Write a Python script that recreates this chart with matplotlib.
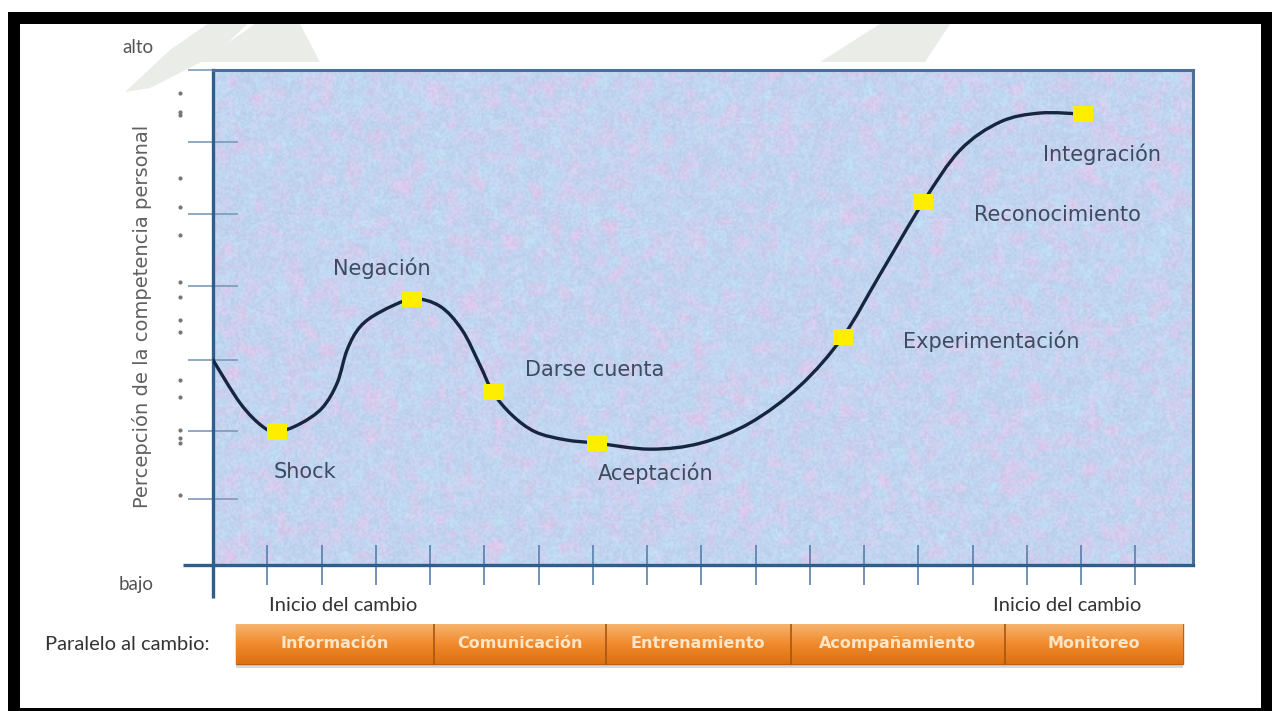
import numpy as np
import matplotlib
matplotlib.use("Agg")
import matplotlib.pyplot as plt
from matplotlib.patches import Rectangle, Polygon, PathPatch
from matplotlib.path import Path
from matplotlib.colors import LinearSegmentedColormap

W, H = 1276, 711

# curve: x in tick steps, y in % of the axis height
curve_x = [0.00, 0.50, 0.90, 1.18, 1.60, 2.01, 2.29, 2.47, 2.71, 3.08, 3.67, 4.18,
           4.59, 4.92, 5.16, 5.51, 5.94, 6.49, 7.08, 8.06, 8.98, 9.90, 10.82, 11.61,
           12.29, 13.09, 13.77, 14.51, 15.24, 16.04]
curve_y = [41.4, 32.7, 28.1, 26.9, 28.5, 31.7, 36.8, 43.4, 48.1, 51.1, 53.7, 52.3,
           47.5, 40.4, 34.9, 30.3, 26.9, 25.3, 24.6, 23.4, 24.6, 28.7, 36.2, 46.1,
           58.6, 73.3, 83.8, 89.5, 91.3, 91.1]

stage_names = ["Shock", "Negación", "Darse cuenta", "Aceptación",
               "Experimentación", "Reconocimiento", "Integración"]
stage_x = [1.18, 3.67, 5.16, 7.08, 11.61, 13.09, 16.04]
stage_y = [26.9, 53.7, 34.9, 24.6, 46.1, 73.3, 91.1]
# where each stage name sits (left edge, middle)
label_x = [1.11, 2.21, 5.75, 7.10, 12.72, 14.03, 15.30]
label_y = [18.8, 60.0, 39.4, 18.6, 45.3, 70.7, 83.0]

y_ticks = [13.3, 27.1, 41.4, 56.4, 70.9, 85.5, 100]
x_ticks = list(range(1, 18))

phases = ["Información", "Comunicación", "Entrenamiento", "Acompañamiento", "Monitoreo"]
phase_start = [0.42, 4.07, 7.24, 10.65, 14.60]
phase_end = [4.07, 7.24, 10.65, 14.60, 17.88]

# stray dots left of the y axis
dot_y = [95.4, 91.5, 90.9, 78.2, 72.3, 66.7, 57.2, 54.1, 49.5, 47.1, 37.4, 33.9,
         27.3, 25.7, 24.6, 14.1]

XMAX = 980 / 54.25
TXT = "#3f4a5e"


def fig_rect(x0, y0, x1, y1):
    return [x0 / W, 1 - y1 / H, (x1 - x0) / W, (y1 - y0) / H]


def blur(a, k):
    ker = np.ones(k) / k
    a = np.apply_along_axis(lambda r: np.convolve(r, ker, mode="same"), 1, a)
    a = np.apply_along_axis(lambda c: np.convolve(c, ker, mode="same"), 0, a)
    return a


def norm(a):
    return (a - a.min()) / (a.max() - a.min())


def texture():
    rng = np.random.default_rng(7)
    h, w = 250, 500
    p = norm(blur(rng.random((h + 20, w + 20)), 6)[10:-10, 10:-10])
    c = norm(blur(rng.random((h + 20, w + 20)), 6)[10:-10, 10:-10])
    base = np.array([192, 212, 240]) / 255
    cyan = np.array([190, 230, 247]) / 255
    pink = np.array([222, 200, 236]) / 255
    tp = np.clip((p - 0.48) * 2.8, 0, 1)[..., None]
    tc = np.clip((c - 0.5) * 2.5, 0, 1)[..., None]
    img = base * (1 - tp) + pink * tp
    img = img * (1 - 0.6 * tc) + cyan * 0.6 * tc
    img += (rng.random((h, w, 1)) - 0.5) * 0.06
    return np.clip(img, 0, 1)


def smooth_path(xs, ys):
    # Catmull-Rom through the read points, drawn as cubic Bezier pieces
    pts = np.column_stack([xs, ys])
    ext = np.vstack([pts[0], pts, pts[-1]])
    verts = [pts[0]]
    codes = [Path.MOVETO]
    for i in range(1, len(ext) - 2):
        p0, p1, p2, p3 = ext[i - 1], ext[i], ext[i + 1], ext[i + 2]
        verts += [p1 + (p2 - p0) / 6, p2 - (p3 - p1) / 6, p2]
        codes += [Path.CURVE4] * 3
    return Path(verts, codes)


fig = plt.figure(figsize=(W / 100, H / 100), dpi=100)
fig.patch.set_facecolor("white")

# frame and faint watermark
deco = fig.add_axes([0, 0, 1, 1])
deco.set_xlim(0, W)
deco.set_ylim(H, 0)
deco.axis("off")
wm = "#eaece8"
deco.add_patch(Polygon([(125, 92), (170, 50), (225, 12), (260, 12), (215, 55), (150, 88)],
                       color=wm, lw=0))
deco.add_patch(Polygon([(200, 62), (255, 24), (300, 24), (320, 62)], color=wm, lw=0))
deco.add_patch(Polygon([(820, 62), (880, 24), (950, 24), (925, 62)], color=wm, lw=0))
for x0, y0, x1, y1 in [(8, 12, 1272, 24), (8, 12, 20, 711), (1261, 12, 1272, 711),
                       (8, 708, 1272, 711)]:
    deco.add_patch(Rectangle((x0, y0), x1 - x0, y1 - y0, color="black", lw=0))

# main chart
ax = fig.add_axes(fig_rect(213, 70, 1193, 565))
ax.imshow(texture(), extent=[0, XMAX, 0, 100], aspect="auto", zorder=0,
          interpolation="bilinear")
ax.set_xlim(0, XMAX)
ax.set_ylim(0, 100)
ax.set_xticks(x_ticks)
ax.set_yticks(y_ticks)
ax.set_xticklabels([])
ax.set_yticklabels([])
ax.tick_params(axis="x", direction="inout", length=29, width=1.2, color="#5b7eaa")
ax.tick_params(axis="y", direction="inout", length=36, width=1.2, color="#7d99bb")
for side in ["top", "right"]:
    ax.spines[side].set_color("#4b6f99")
    ax.spines[side].set_linewidth(2.2)
for side in ["left", "bottom"]:
    ax.spines[side].set_color("#2f5d8c")
    ax.spines[side].set_linewidth(2.4)
ax.plot([0, 0], [0, -6.7], color="#2f5d8c", lw=2.4, clip_on=False, solid_capstyle="butt")
ax.plot([-0.56, 0], [0, 0], color="#2f5d8c", lw=2.4, clip_on=False, solid_capstyle="butt")
ax.plot([-0.61] * len(dot_y), dot_y, ls="none", marker="o", ms=2, color="#777777",
        clip_on=False)

ax.add_patch(PathPatch(smooth_path(curve_x, curve_y), fill=False, edgecolor="#17263f",
                       lw=2.4, capstyle="round", joinstyle="round", zorder=3))
box = [(-1.25, -1), (1.25, -1), (1.25, 1), (-1.25, 1)]
ax.plot(stage_x, stage_y, ls="none", marker=box, ms=15, color="#ffee00",
        markeredgewidth=0, zorder=4)
for name, lx, ly in zip(stage_names, label_x, label_y):
    ax.text(lx, ly, name, fontsize=15, color=TXT, ha="left", va="center")

ax.text(-1.1, 104.5, "alto", fontsize=13.5, color="#555555", ha="right", va="center",
        family="Lato", clip_on=False)
ax.text(-1.1, -4.0, "bajo", fontsize=13.5, color="#555555", ha="right", va="center",
        family="Lato", clip_on=False)
ax.text(2.4, -8.1, "Inicio del cambio", fontsize=14.5, color="#333333", ha="center",
        va="center", family="Lato", clip_on=False)
ax.text(15.74, -8.1, "Inicio del cambio", fontsize=14.5, color="#333333", ha="center",
        va="center", family="Lato", clip_on=False)
fig.text(142 / W, 1 - 316 / H, "Percepción de la competencia personal", rotation=90,
         fontsize=14, color="#606060", ha="center", va="center",
         family=["Liberation Sans Narrow", "DejaVu Sans"])
fig.text(45 / W, 1 - 645 / H, "Paralelo al cambio:", fontsize=14.5, color="#333333",
         ha="left", va="center", family="Lato")

# phase bar under the chart, with a soft shadow
pax = fig.add_axes(fig_rect(213, 624, 1193, 668))
orange = LinearSegmentedColormap.from_list("o", ["#f7b46d", "#f08a2c", "#dc7012"])
grad = np.linspace(0, 1, 64)[:, None]
widths = np.array(phase_end) - np.array(phase_start)
pax.barh(0.42, widths, left=phase_start, height=0.9, color="#d8d8d8", linewidth=0,
         zorder=1)
bars = pax.barh(0.5455, widths, left=phase_start, height=0.909, color="#ee8428",
                edgecolor="#b9601a", linewidth=1.0, zorder=2)
for bar, name, s, e in zip(bars, phases, phase_start, phase_end):
    im = pax.imshow(grad, extent=[s, e, 0.091, 1], aspect="auto", cmap=orange,
                    interpolation="bilinear", zorder=2)
    im.set_clip_path(bar)
    pax.text((s + e) / 2, 0.5455, name, fontsize=11.5, fontweight="bold",
             color="#fde6c8", ha="center", va="center", zorder=3)
for s in phase_start[1:]:
    pax.plot([s, s], [0.091, 1], color="#a85610", lw=1.2, zorder=3)
pax.set_xlim(0, XMAX)
pax.set_ylim(0, 1)
pax.axis("off")

fig.savefig("out.png", dpi=100, facecolor="white")
